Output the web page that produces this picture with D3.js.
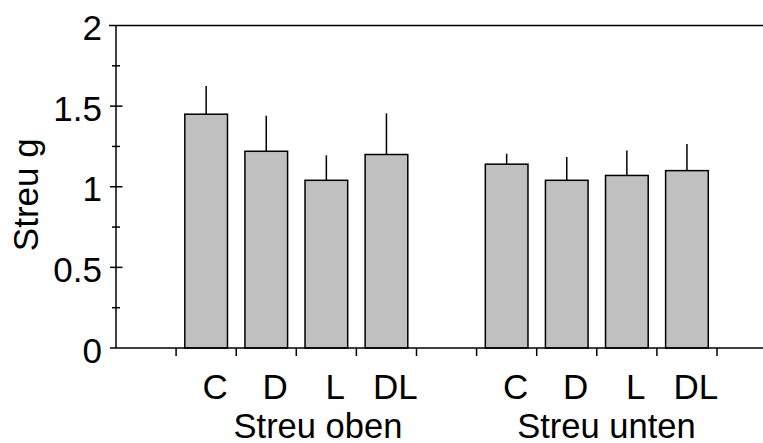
<!DOCTYPE html>
<html>
<head>
<meta charset="utf-8">
<script src="https://cdn.jsdelivr.net/npm/d3@7/dist/d3.min.js"></script>
<style>
  html, body { margin: 0; padding: 0; background: #fff; }
  svg { display: block; font-family: "Liberation Sans", Arial, sans-serif; }
</style>
</head>
<body>
<svg id="chart" width="763" height="443"></svg>
<script>
// Litter mass (g) per treatment, upper and lower litter layer
const groups = ["Streu oben", "Streu unten"];
const treatments = ["C", "D", "L", "DL"];
const meansOben = [1.45, 1.22, 1.04, 1.20];
const errOben = [0.175, 0.22, 0.155, 0.255];
const meansUnten = [1.14, 1.04, 1.07, 1.10];
const errUnten = [0.065, 0.145, 0.155, 0.165];
const yTickLabels = ["0", "0.5", "1", "1.5", "2"];

const W = 763, H = 443;
const plotLeft = 116, plotTop = 25.5, plotBottom = 348;
const slotWidth = 60.1;
const nSlots = 10.8;

const svg = d3.select("#chart");

// slot scale: bars sit in unit-wide slots, one empty slot between groups
const x = d3.scaleLinear().domain([0, nSlots]).range([plotLeft, plotLeft + nSlots * slotWidth]);
const y = d3.scaleLinear().domain([0, 2]).range([plotBottom, plotTop]);

// build bar rows
const rows = [];
[meansOben, meansUnten].forEach((means, g) => {
  const errs = g === 0 ? errOben : errUnten;
  means.forEach((m, i) => {
    rows.push({ group: g, label: treatments[i], value: m, err: errs[i], slot: 1 + g * 5 + i });
  });
});

const barFrac = 0.71;

// bars
svg.append("g").selectAll("rect").data(rows).join("rect")
  .attr("x", d => x(d.slot + (1 - barFrac) / 2))
  .attr("width", x(barFrac) - x(0))
  .attr("y", d => y(d.value))
  .attr("height", d => y(0) - y(d.value))
  .attr("fill", "#c0c0c0")
  .attr("stroke", "#000")
  .attr("stroke-width", 1.5);

// upper error whiskers
svg.append("g").selectAll("line").data(rows).join("line")
  .attr("x1", d => x(d.slot + 0.5))
  .attr("x2", d => x(d.slot + 0.5))
  .attr("y1", d => y(d.value))
  .attr("y2", d => y(d.value + d.err))
  .attr("stroke", "#000")
  .attr("stroke-width", 1.5);

const axis = svg.append("g").attr("stroke", "#000").attr("stroke-width", 1.5);

// frame: left axis, top and bottom rules
axis.append("line").attr("x1", plotLeft).attr("x2", plotLeft).attr("y1", y(2)).attr("y2", y(0));
axis.append("line").attr("x1", plotLeft - 7).attr("x2", W).attr("y1", y(2)).attr("y2", y(2));
axis.append("line").attr("x1", plotLeft - 6).attr("x2", W).attr("y1", y(0)).attr("y2", y(0));

// y ticks: major crossing ticks, minor shorter ticks
const majors = [0.5, 1, 1.5];
const minors = [0.25, 0.75, 1.25, 1.75];
axis.selectAll(".maj").data(majors).join("line")
  .attr("class", "maj")
  .attr("x1", plotLeft - 6).attr("x2", plotLeft + 6.5)
  .attr("y1", d => y(d)).attr("y2", d => y(d));
axis.selectAll(".min").data(minors).join("line")
  .attr("class", "min")
  .attr("x1", plotLeft - 4).attr("x2", plotLeft + 4)
  .attr("y1", d => y(d)).attr("y2", d => y(d));

// x ticks at slot boundaries
axis.selectAll(".xt").data(d3.range(1, 11)).join("line")
  .attr("class", "xt")
  .attr("x1", d => x(d)).attr("x2", d => x(d))
  .attr("y1", y(0)).attr("y2", y(0) + 8);

// y tick labels
svg.append("g").selectAll("text").data(yTickLabels).join("text")
  .attr("x", plotLeft - 14)
  .attr("y", d => y(+d) + 14.5)
  .attr("text-anchor", "end")
  .attr("font-size", 35)
  .attr("fill", "#000")
  .text(d => d);

// y axis title
svg.append("text")
  .attr("transform", `translate(38,${(y(2) + y(0)) / 2 + 8}) rotate(-90)`)
  .attr("text-anchor", "middle")
  .attr("font-size", 35)
  .text("Streu g");

// treatment labels
svg.append("g").selectAll("text").data(rows).join("text")
  .attr("x", d => x(d.slot + 0.5) + 9)
  .attr("y", 398.5)
  .attr("text-anchor", "middle")
  .attr("font-size", 35)
  .text(d => d.label);

// group labels
const groupCenters = [3.36, 8.16];
svg.append("g").selectAll("text").data(groups).join("text")
  .attr("x", (d, i) => x(groupCenters[i]))
  .attr("y", 437.5)
  .attr("text-anchor", "middle")
  .attr("font-size", 34.5)
  .text(d => d);
</script>
</body>
</html>
